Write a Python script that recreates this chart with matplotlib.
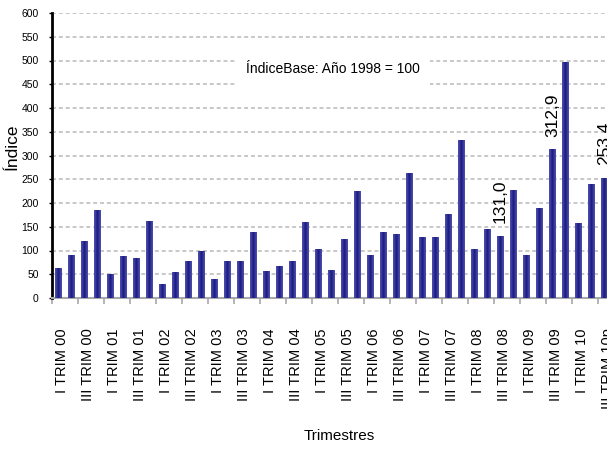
import numpy as np
import matplotlib.pyplot as plt
from matplotlib.colors import LinearSegmentedColormap
from matplotlib.transforms import ScaledTranslation

# indice trimestral, base 1998 = 100
trimestres = [f"{r} TRIM {a:02d}" for a in range(0, 11) for r in ["I", "II", "III", "IV"]][:43]
trimestres[-1] = "III TRIM 10p"
indice = [64, 91, 121, 186, 51, 89, 85, 163, 30, 55, 77, 100,
          39, 77, 77, 138, 56, 68, 77, 159, 104, 60, 125, 225,
          91, 138, 134, 264, 129, 129, 177, 332, 104, 145, 131.0, 227,
          91, 190, 312.9, 497, 158, 240, 253.4]
etiquetas = {34: "131,0", 38: "312,9", 42: "253,4"}
nota = "ÍndiceBase: Año 1998 = 100"

narrow = ["Liberation Sans Narrow", "Liberation Sans", "DejaVu Sans"]
arial = ["Liberation Sans", "DejaVu Sans"]

fig = plt.figure(figsize=(6.07, 4.5), dpi=100)
ax = fig.add_axes([52 / 607, 152 / 450, 559 / 607, 285 / 450])

x = np.arange(len(indice))
bars = ax.bar(x, indice, width=0.5, color="#2e2e92", zorder=2)

# gradiente horizontal dentro de cada barra
cmap = LinearSegmentedColormap.from_list("barra", ["#16167c", "#3a3a9e", "#5050ac"])
grad = np.abs(np.linspace(-1, 1, 64))[None, :]
for b in bars:
    im = ax.imshow(grad, cmap=cmap, aspect="auto", zorder=3, interpolation="bicubic",
                   extent=[b.get_x(), b.get_x() + b.get_width(), 0, b.get_height()])
    im.set_clip_path(b)

ax.set_xlim(-0.5, len(indice) - 0.5)
ax.set_ylim(0, 600)
ax.set_yticks(np.arange(0, 601, 50))
ax.yaxis.grid(True, color="#c4c4c4", linestyle=(0, (2.2, 1.6)), linewidth=1.3)
ax.set_axisbelow(True)

for s in ["top", "right"]:
    ax.spines[s].set_visible(False)
ax.spines["left"].set_linewidth(2)
ax.spines["left"].set_color("black")
ax.spines["bottom"].set_color("#a8a8a8")
ax.spines["bottom"].set_linewidth(1.5)

ax.tick_params(axis="y", length=2.5, width=1, pad=7, labelsize=7.5)
for t in ax.get_yticklabels():
    t.set_family(narrow)

ax.set_xticks(x[::2])
ax.set_xticklabels(trimestres[::2], rotation=90, fontsize=10.5, family=arial, va="top")
ax.tick_params(axis="x", length=0, pad=22)
shift = ScaledTranslation(3 / 100, 0, fig.dpi_scale_trans)
for t in ax.get_xticklabels():
    t.set_transform(t.get_transform() + shift)
ax.set_xticks(np.arange(-0.5, len(indice), 2), minor=True)
ax.tick_params(axis="x", which="minor", length=4, color="#a8a8a8", width=1.2)

for i, txt in etiquetas.items():
    ax.annotate(txt, (x[i], indice[i]), xytext=(0, 9), textcoords="offset points",
                rotation=90, ha="center", va="bottom", fontsize=12.5, family=arial)

ax.text(21.1, 482, nota, ha="center", va="center", fontsize=10, family=narrow, zorder=4,
        bbox=dict(boxstyle="square,pad=0.75", facecolor="white", edgecolor="none"))

ax.set_ylabel("Índice", fontsize=12.5, family=arial)
ax.yaxis.set_label_coords(-0.058, 0.53)
ax.set_xlabel("Trimestres", fontsize=11, family=narrow)
ax.xaxis.set_label_coords(0.513, -0.46)

fig.savefig("out.png", dpi=100)
